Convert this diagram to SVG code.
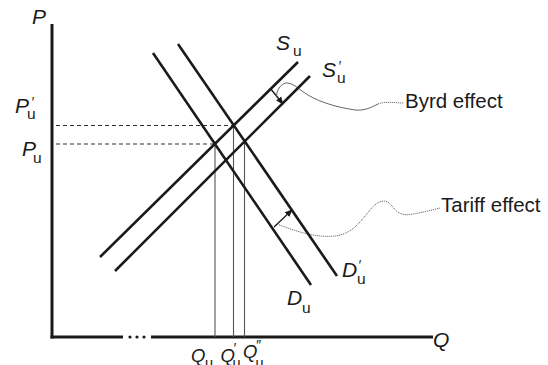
<svg xmlns="http://www.w3.org/2000/svg" width="548" height="365" viewBox="0 0 548 365">
<defs>
<marker id="ah" markerWidth="8" markerHeight="8" refX="7" refY="4" orient="auto" markerUnits="userSpaceOnUse">
<path d="M0,0.8 L8,4 L0,7.2 Z" fill="#1a1a1a"/>
</marker>
<style>
.ax{stroke:#1a1a1a;stroke-width:3;fill:none}
.cv{stroke:#1a1a1a;stroke-width:2.6;fill:none;stroke-linecap:butt}
.dash{stroke:#333;stroke-width:1;stroke-dasharray:4,3;fill:none}
.vl{stroke:#555;stroke-width:1.1;fill:none}
.arr{stroke:#1a1a1a;stroke-width:1.3;fill:none}
.lead{stroke:#555;stroke-width:0.9;fill:none}
.dot{stroke:#555;stroke-width:1;stroke-dasharray:1,1;fill:none}
.v{font-family:"Liberation Sans",Arial,sans-serif;font-style:italic;font-size:21px;fill:#1a1a1a}
.vq{font-family:"Liberation Sans",Arial,sans-serif;font-style:italic;font-size:18.5px;fill:#1a1a1a}
.s{font-family:"Liberation Sans",Arial,sans-serif;font-size:15.5px;fill:#1a1a1a}
.sq{font-family:"Liberation Sans",Arial,sans-serif;font-size:14.5px;fill:#1a1a1a}
.pr{font-family:"Liberation Sans",Arial,sans-serif;font-style:italic;font-size:14px;fill:#1a1a1a}
.t{font-family:"Liberation Sans",Arial,sans-serif;font-size:20.5px;fill:#1a1a1a}
</style>
</defs>
<rect width="548" height="365" fill="#fff"/>
<g id="axes">
<line class="ax" x1="52" y1="24" x2="52" y2="338.5"/>
<line class="ax" x1="50.5" y1="337" x2="123" y2="337"/>
<circle cx="130" cy="337" r="1.6" fill="#1a1a1a"/>
<circle cx="137" cy="337" r="1.6" fill="#1a1a1a"/>
<circle cx="144" cy="337" r="1.6" fill="#1a1a1a"/>
<line class="ax" x1="151" y1="337" x2="433" y2="337"/>
<text class="v" x="32" y="24">P</text>
<text class="v" x="433" y="347">Q</text>
</g>
<g id="connectors">
<line class="dash" x1="56" y1="125.5" x2="234" y2="125.5"/>
<line class="dash" x1="56" y1="144" x2="215" y2="144"/>
<line class="vl" x1="215" y1="144" x2="215" y2="337"/>
<line class="vl" x1="233.5" y1="125.5" x2="233.5" y2="337"/>
<line class="vl" x1="244.5" y1="141.5" x2="244.5" y2="337"/>
<line class="arr" x1="270" y1="88" x2="283" y2="104" marker-end="url(#ah)"/>
<path class="lead" d="M276.5,96 C277,88 283,82 288,83 C293,84 297,87 302,91 C315,101 335,107 355,110 C365,111 372,107 378,104"/>
<path class="dot" d="M378,104 C385,101 395,103 404,103"/>
<line class="arr" x1="274" y1="227" x2="292" y2="210" marker-end="url(#ah)"/>
<path class="dot" d="M277,224 C295,231 315,238 335,236 C352,234 360,222 370,210 C378,200 386,198 392,206 C398,214 403,216 413,214 C425,212 432,210 440,208"/>
</g>
<g id="Su">
<line class="cv" x1="100" y1="257" x2="298" y2="62"/>
<text class="v" x="276" y="50">S</text>
<text class="s" x="293" y="56">u</text>
</g>
<g id="Su-prime">
<line class="cv" x1="115" y1="271" x2="310" y2="76"/>
<text class="v" x="322" y="77">S</text>
<text class="pr" x="338" y="71">′</text>
<text class="s" x="337" y="83">u</text>
</g>
<g id="Du">
<line class="cv" x1="153" y1="53" x2="311" y2="285"/>
<text class="v" x="287" y="305">D</text>
<text class="s" x="302" y="313">u</text>
</g>
<g id="Du-prime">
<line class="cv" x1="178" y1="44" x2="337" y2="276"/>
<text class="v" x="342" y="277">D</text>
<text class="pr" x="358" y="270">′</text>
<text class="s" x="357" y="284">u</text>
</g>
<g id="Pu-prime">
<text class="v" x="15" y="113">P</text>
<text class="pr" x="31" y="107">′</text>
<text class="s" x="27" y="119">u</text>
</g>
<g id="Pu">
<text class="v" x="22" y="156">P</text>
<text class="s" x="33" y="163">u</text>
</g>
<g id="Qu">
<text class="vq" x="191" y="362">Q</text>
<text class="sq" x="205" y="368">u</text>
</g>
<g id="Qu-prime">
<text class="vq" x="220.5" y="362">Q</text>
<text class="pr" x="233" y="353">′</text>
<text class="sq" x="232.5" y="368">u</text>
</g>
<g id="Qu-dprime">
<text class="vq" x="243" y="358">Q</text>
<text class="pr" x="255.5" y="350">″</text>
<text class="sq" x="255.5" y="368">u</text>
</g>
<g id="byrd-effect">
<text class="t" x="405" y="108">Byrd effect</text>
</g>
<g id="tariff-effect">
<text class="t" x="441" y="212">Tariff effect</text>
</g>
</svg>
